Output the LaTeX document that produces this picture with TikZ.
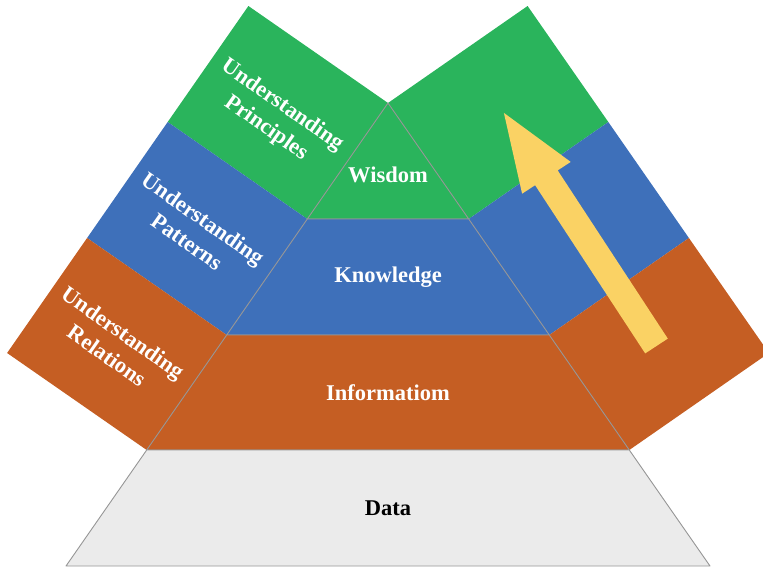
\documentclass[tikz,border=0pt]{standalone}
\usepackage{fontspec}
\setmainfont{Liberation Serif}
\definecolor{cgreen}{RGB}{42,180,92}
\definecolor{cblue}{RGB}{62,112,186}
\definecolor{corange}{RGB}{197,94,35}
\definecolor{cyellow}{RGB}{250,210,100}
\definecolor{cdata}{RGB}{235,235,235}
\definecolor{cline}{RGB}{150,150,150}
\begin{document}
\begin{tikzpicture}[x=1pt,y=-1pt,
  level/.style={draw=cline,line width=0.9pt,line join=round},
  lbl/.style={text=white,font=\bfseries\fontsize{22.5}{28}\selectfont,align=center,inner sep=0pt},
  sidelbl/.style={lbl,rotate=-35}]
\useasboundingbox (0,0) rectangle (763,568);
\clip (0,0) rectangle (763,568);
% key points
\coordinate (A) at (388,103);
\coordinate (An) at (248.4,6.0);
\coordinate (B) at (307.3,219);
\coordinate (Bn) at (167.7,122);
\coordinate (C) at (226.7,335);
\coordinate (Cn) at (87.1,238);
\coordinate (D) at (146.7,450);
\coordinate (Dn) at (7.1,353);
\coordinate (Ar) at (527.6,6.0);
\coordinate (Br) at (468.7,219);
\coordinate (Brn) at (608.3,122);
\coordinate (Cr) at (549.3,335);
\coordinate (Crn) at (688.9,238);
\coordinate (Dr) at (629.3,450);
\coordinate (Drn) at (768.9,353);
\coordinate (E) at (66,566);
\coordinate (Er) at (710,566);
% left panel
\fill[cgreen] (A) -- (An) -- (Bn) -- (B) -- cycle;
\fill[cblue] (B) -- (Bn) -- (Cn) -- (C) -- cycle;
\fill[corange] (C) -- (Cn) -- (Dn) -- (D) -- cycle;
% right panel
\fill[cgreen] (A) -- (Ar) -- (Brn) -- (Br) -- cycle;
\fill[cblue] (Br) -- (Brn) -- (Crn) -- (Cr) -- cycle;
\fill[corange] (Cr) -- (Crn) -- (Drn) -- (Dr) -- cycle;
% pyramid
\filldraw[level,fill=cgreen] (A) -- (B) -- (Br) -- cycle;
\filldraw[level,fill=cblue] (B) -- (C) -- (Cr) -- (Br) -- cycle;
\filldraw[level,fill=corange] (C) -- (D) -- (Dr) -- (Cr) -- cycle;
\filldraw[level,fill=cdata] (D) -- (E) -- (Er) -- (Dr) -- cycle;
% arrow
\fill[cyellow] (645.2,353.4) -- (667.8,338.6) -- (557.7,170.4) -- (570.7,161.9)
  -- (503.9,112.9) -- (522.1,193.7) -- (535.1,185.2) -- cycle;
% labels
\node[lbl] (wis) at (388,175) {Wisdom};
\node[lbl] (kno) at (388,277) {Knowledge};
\node[lbl] (inf) at (388,393) {Informatiom};
\node[lbl,text=black] (dat) at (388,508) {Data};
\node[sidelbl] (up) at (274,117) {Understanding\\Principles};
\node[sidelbl] (upa) at (195,230) {Understanding\\Patterns};
\node[sidelbl] (ure) at (115,344) {Understanding\\Relations};
\end{tikzpicture}
\end{document}
